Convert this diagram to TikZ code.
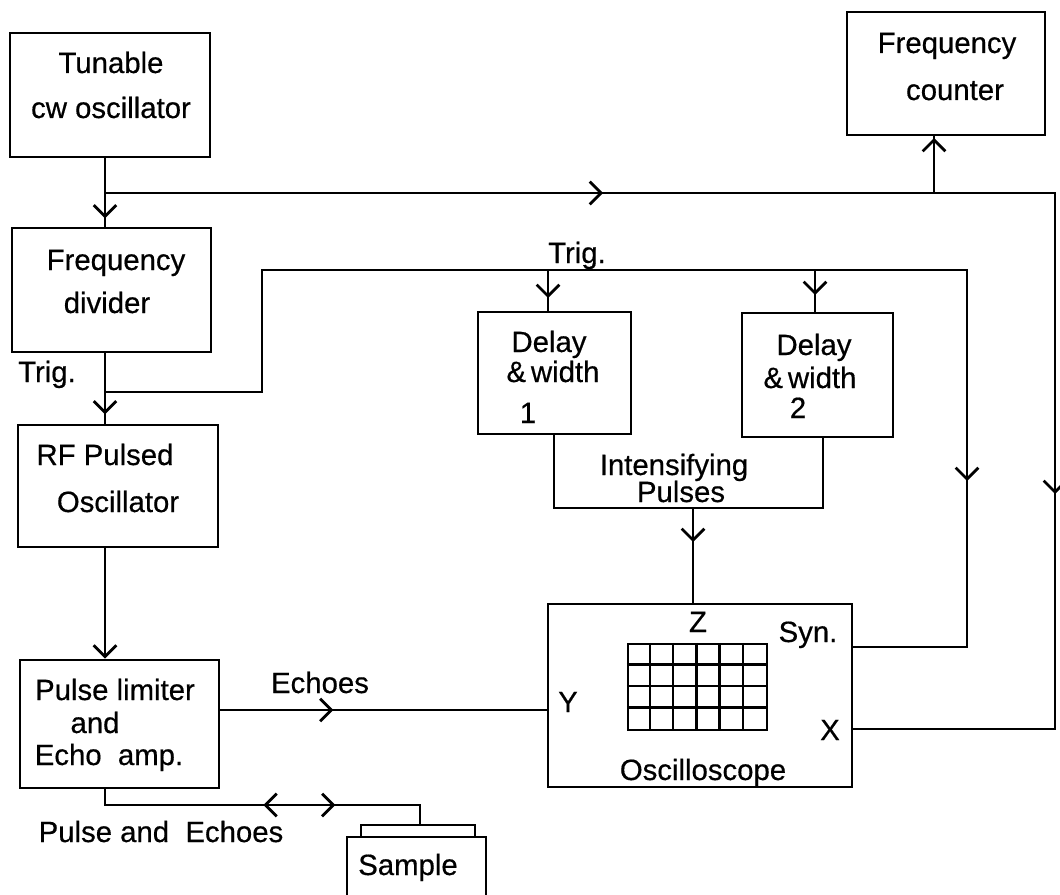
\documentclass[tikz,border=0pt]{standalone}
\usepackage{fontspec}
\setmainfont[FakeBold=0.5]{Liberation Sans}
\usetikzlibrary{arrows.meta,decorations.markings,fit,calc}
\tikzset{
  box/.style={draw, line width=2.1pt, inner sep=0pt},
  txt/.style={font=\fontsize{22}{26}\selectfont, inner sep=0pt, anchor=base},
  barbtip/.tip={Straight Barb[length=8.5pt,width=17pt]},
  arrowat/.style={postaction={decorate,decoration={markings,mark=at position #1 with {\arrow{barbtip}}}}},
  revarrowat/.style={postaction={decorate,decoration={markings,mark=at position #1 with {\arrowreversed{barbtip}}}}},
}
\begin{document}
\begin{tikzpicture}[x=0.75pt,y=-0.75pt,line width=2.1pt]
\useasboundingbox (0,0) rectangle (1060,895);
\fill[white] (0,0) rectangle (1060,895);
\clip (0,0) rectangle (1060,895);

% boxes
\node[box, fit={(10,33)(210,157)}] (tun) {};
\node[box, fit={(847,12)(1045,135)}] (fc) {};
\node[box, fit={(12,228)(211,352)}] (fd) {};
\node[box, fit={(18,425)(218,547)}] (rf) {};
\node[box, fit={(20,660)(219,788)}] (pl) {};
\node[box, fit={(478,312)(631,434)}] (d1) {};
\node[box, fit={(742,313)(893,437)}] (d2) {};
\node[box, fit={(548,604)(852,787)}] (scope) {};
\node[box, fit={(361,825)(475,837)}] (lid) {};
\node[box, fit={(347,837)(486,910)}] (sample) {};

% oscilloscope screen
\node[box, line width=1.7pt, fit={(628,644)(767,730)}] (screen) {};
\foreach \i in {1,...,5} \draw[line width=1.7pt] ($(screen.north west)+(\i*23.17,0)$) -- ++(0,86);
\foreach \j in {1,...,3} \draw[line width=1.7pt] ($(screen.north west)+(0,\j*21.5)$) -- ++(139,0);

% texts
\node[txt] (t-tun1) at (111,73) {Tunable};
\node[txt] (t-tun2) at (111,118) {cw oscillator};
\node[txt] (t-fc1) at (947,53) {Frequency};
\node[txt] (t-fc2) at (955,100) {counter};
\node[txt] (t-fd1) at (116,270) {Frequency};
\node[txt] (t-fd2) at (107,313) {divider};
\node[txt] (t-trig1) at (47,382) {Trig.};
\node[txt] (t-rf1) at (105,465) {RF Pulsed};
\node[txt] (t-rf2) at (118,512) {Oscillator};
\node[txt] (t-pl1) at (115,700) {Pulse limiter};
\node[txt] (t-pl2) at (95,733) {and};
\node[txt] (t-pl3) at (109,765) {Echo\ \ amp.};
\node[txt] (t-echo) at (320,693) {Echoes};
\node[txt] (t-pe) at (161,842) {Pulse and\ \ Echoes};
\node[txt] (t-sample) at (408,875) {Sample};
\node[txt] (t-trig2) at (577,263) {Trig.};
\node[txt] (t-d11) at (549,352) {Delay};
\node[txt] (t-d12) at (553,382) {\&\,width};
\node[txt] (t-d13) at (528,423) {1};
\node[txt] (t-d21) at (814,355) {Delay};
\node[txt] (t-d22) at (810,388) {\&\,width};
\node[txt] (t-d23) at (798,418) {2};
\node[txt] (t-int1) at (674,475) {Intensifying};
\node[txt] (t-int2) at (681,502) {Pulses};
\node[txt] (t-z) at (698,632) {Z};
\node[txt] (t-syn) at (808,642) {Syn.};
\node[txt] (t-y) at (568,712) {Y};
\node[txt] (t-x) at (830,740) {X};
\node[txt] (t-osc) at (703,780) {Oscilloscope};

% junction coordinates
\coordinate (J1) at (105,193);
\coordinate (J2) at (105,392);
\coordinate (c1) at (1055,193);
\coordinate (c2) at (1055,729);
\coordinate (fcin) at (934,193);
\coordinate (t1) at (262,392);
\coordinate (t2) at (262,270);
\coordinate (t3) at (967,270);
\coordinate (t4) at (967,647);
\coordinate (t5) at (548,270);
\coordinate (t6) at (815,270);
\coordinate (yy) at (548,710);
\coordinate (s1) at (105,805);
\coordinate (s2) at (420,805);
\coordinate (i1) at (554,508);
\coordinate (i2) at (823,508);
\coordinate (i3) at (693,508);

% connectors
\draw[arrowat=45pt] (tun.south -| J1) -- (fd.north -| J1);
\draw[arrowat=373.5pt, arrowat=938.25pt] (J1) -- (c1) -- (c2) -- (scope.east |- c2);
\draw[arrowat=41.25pt] (fcin) -- (fc.south -| fcin);
\draw[arrowat=45.75pt] (fd.south -| J2) -- (rf.north -| J2);
\draw[arrowat=896.25pt] (J2) -- (t1) -- (t2) -- (t3) -- (t4) -- (scope.east |- t4);
\draw[arrowat=21pt] (t5) -- (d1.north -| t5);
\draw[arrowat=18.75pt] (t6) -- (d2.north -| t6);
\draw[-barbtip] (rf.south -| J1) -- (pl.north -| J1);
\draw[arrowat=84.75pt] (pl.east |- yy) -- (scope.west |- yy);
\draw[arrowat=184.5pt, revarrowat=130.5pt] (pl.south -| s1) -- (s1) -- (s2) -- (lid.north -| s2);
\draw (d1.south -| i1) -- (i1) -- (i2) -- (d2.south -| i2);
\draw[arrowat=25.5pt] (i3) -- (scope.north -| i3);
\end{tikzpicture}
\end{document}
